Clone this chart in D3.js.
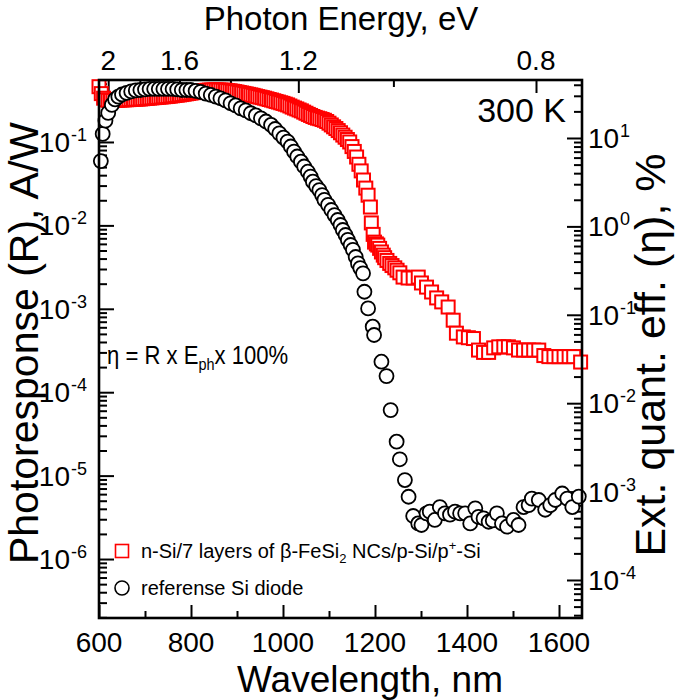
<!DOCTYPE html>
<html><head><meta charset="utf-8">
<script src="https://cdn.jsdelivr.net/npm/d3@7/dist/d3.min.js"></script>
<style>body{margin:0;background:#fff} text{font-family:"Liberation Sans",Arial,Helvetica,sans-serif;fill:#000}</style>
</head><body><svg id="c" width="675" height="700"></svg>
<script>
// ---- data ----
const redWl = [600,605,610,615,620,625,630,635,640,645,650,655,660,665,670,675,680,685,690,695,700,705,710,715,720,725,730,735,740,745,750,755,760,765,770,775,780,785,790,795,800,805,810,815,820,825,830,835,840,845,850,855,860,865,870,875,880,885,890,895,900,905,910,915,920,925,930,935,940,945,950,955,960,965,970,975,980,985,990,995,1000,1005,1010,1015,1020,1025,1030,1035,1040,1045,1050,1055,1060,1065,1070,1075,1080,1085,1090,1095,1100,1105,1110,1115,1120,1125,1130,1135,1140,1145,1150,1155,1160,1165,1170,1175,1180,1185,1190,1192,1196,1199,1203,1206,1210,1214,1218,1221,1226,1232,1237,1243,1248,1254,1261,1272,1283,1294,1301,1312,1323,1334,1345,1359,1370,1377,1392,1403,1414,1425,1436,1447,1458,1469,1480,1490,1501,1512,1523,1534,1545,1556,1567,1578,1589,1600,1611,1622,1632,1647];
const redR = [0.46,0.38,0.335,0.32,0.316,0.315,0.315,0.316,0.317,0.318,0.319,0.32,0.321,0.322,0.323,0.325,0.326,0.327,0.328,0.33,0.332,0.334,0.336,0.338,0.34,0.342,0.344,0.346,0.348,0.35,0.352,0.355,0.358,0.361,0.364,0.367,0.37,0.374,0.378,0.382,0.386,0.39,0.395,0.40,0.405,0.41,0.414,0.417,0.419,0.42,0.421,0.421,0.42,0.419,0.418,0.416,0.413,0.41,0.406,0.402,0.397,0.392,0.387,0.382,0.377,0.372,0.367,0.362,0.356,0.35,0.345,0.34,0.335,0.329,0.323,0.318,0.312,0.306,0.301,0.295,0.29,0.284,0.278,0.27,0.262,0.255,0.249,0.242,0.236,0.228,0.221,0.214,0.208,0.202,0.197,0.193,0.19,0.186,0.182,0.176,0.168,0.16,0.152,0.145,0.137,0.129,0.121,0.114,0.107,0.1,0.088,0.077,0.066,0.054,0.045,0.035,0.028,0.023,0.0166,0.0107,0.0078,0.0063,0.006,0.0058,0.0053,0.0048,0.0044,0.0041,0.0038,0.0035,0.0033,0.0031,0.0029,0.0027,0.0024,0.00234,0.00234,0.0024,0.00204,0.00182,0.00159,0.00135,0.00121,0.00105,0.00073,0.00051,0.00046,0.00045,0.00044,0.00032,0.0003,0.0003,0.00034,0.00035,0.00035,0.00035,0.00034,0.00032,0.00032,0.00032,0.00032,0.00032,0.000275,0.000267,0.000267,0.000267,0.000267,0.000267,0.000267,0.00023];

const refWl = [604,608,614,620,628,635,642,650,660,670,680,690,700,710,720,730,740,750,760,770,780,790,799,810,821,832,843,854,864,875,886,897,908,919,930,941,952,963,974,983,992,1001,1010,1017,1024,1031,1039,1046,1054,1060,1065,1072,1079,1085,1090,1098,1105,1112,1119,1125,1130,1136,1141,1147,1152,1158,1163,1168,1174,1177,1185,1195,1198,1214,1225,1234,1247,1254,1265,1273,1283,1294,1301,1312,1319,1330,1341,1352,1363,1374,1385,1396,1407,1418,1425,1436,1447,1456,1465,1476,1487,1501,1512,1523,1534,1541,1556,1570,1581,1592,1607,1618,1629,1643];
const refR = [0.059,0.125,0.18,0.223,0.278,0.324,0.349,0.371,0.387,0.404,0.415,0.42,0.426,0.432,0.432,0.432,0.432,0.432,0.432,0.426,0.42,0.42,0.42,0.409,0.398,0.38,0.366,0.35,0.334,0.315,0.291,0.274,0.253,0.239,0.221,0.208,0.192,0.176,0.16,0.143,0.127,0.113,0.101,0.0883,0.0766,0.067,0.058,0.0508,0.044,0.0385,0.0334,0.0296,0.0265,0.0231,0.0202,0.0176,0.0153,0.0133,0.0116,0.0101,0.0088,0.00767,0.0067,0.00582,0.0051,0.00418,0.0035,0.00308,0.00266,0.0016,0.00101,0.00061,0.000485,0.000232,0.000156,0.000061,0.0000255,0.0000157,0.00000885,0.00000558,0.00000328,0.00000267,0.00000256,0.00000353,0.0000037,0.00000294,0.0000042,0.00000353,0.0000034,0.0000037,0.00000353,0.00000353,0.00000267,0.00000405,0.0000032,0.00000307,0.0000028,0.0000029,0.00000353,0.00000267,0.00000244,0.00000294,0.00000256,0.0000042,0.00000443,0.0000053,0.0000051,0.0000039,0.00000443,0.0000051,0.0000061,0.0000053,0.0000042,0.0000056];

const xTickLabels = [600,800,1000,1200,1400,1600];
const xTickMinor = [700,900,1100,1300,1500];
const eTickLabels = [2,1.6,1.2,0.8];
const eTickMinor = [1.8,1.4,1.0];
const leftDecades = [-1,-2,-3,-4,-5,-6];
const rightDecades = [1,0,-1,-2,-3,-4];
const seriesNames = ["n-Si/7 layers of β-FeSi", "referense Si diode"];

// ---- layout ----
const L = 99, R = 582, T = 80, B = 618;
const svg = d3.select("#c");
const x = d3.scaleLinear([600, 1650], [L, R]);
const yL = d3.scaleLog([Math.pow(10, -6.707), Math.pow(10, -0.257)], [B, T]);
const yR = d3.scaleLog([Math.pow(10, -4.43), Math.pow(10, 1.656)], [B, T]);
const hc = 1240;

function minorLog(scale) {
  const [a, b] = scale.domain(); const out = [];
  for (let d = Math.floor(Math.log10(a)); d <= Math.ceil(Math.log10(b)); d++)
    for (let k = 2; k <= 9; k++) { const v = k * Math.pow(10, d); if (v > a && v < b) out.push(v); }
  return out;
}
const tickStyle = g => { g.select(".domain").remove(); g.selectAll("line").attr("stroke", "#000").attr("stroke-width", 2); };

// axes: ticks pointing inward
svg.append("g").attr("transform", `translate(${L},0)`).call(d3.axisRight(yL).tickValues(leftDecades.map(d => Math.pow(10, d))).tickSize(15).tickFormat("")).call(tickStyle);
svg.append("g").attr("transform", `translate(${L},0)`).call(d3.axisRight(yL).tickValues(minorLog(yL)).tickSize(8).tickFormat("")).call(tickStyle);
svg.append("g").attr("transform", `translate(${R},0)`).call(d3.axisLeft(yR).tickValues(rightDecades.map(d => Math.pow(10, d))).tickSize(15).tickFormat("")).call(tickStyle);
svg.append("g").attr("transform", `translate(${R},0)`).call(d3.axisLeft(yR).tickValues(minorLog(yR)).tickSize(8).tickFormat("")).call(tickStyle);
svg.append("g").attr("transform", `translate(0,${B})`).call(d3.axisTop(x).tickValues(xTickLabels).tickSize(13).tickFormat("")).call(tickStyle);
svg.append("g").attr("transform", `translate(0,${B})`).call(d3.axisTop(x).tickValues(xTickMinor).tickSize(7).tickFormat("")).call(tickStyle);
// photon energy axis: position = x(hc/E)
const eMajor = eTickLabels.map(e => hc / e), eMin = eTickMinor.map(e => hc / e);
svg.append("g").attr("transform", `translate(0,${T})`).call(d3.axisBottom(x).tickValues(eMajor).tickSize(13).tickFormat("")).call(tickStyle);
svg.append("g").attr("transform", `translate(0,${T})`).call(d3.axisBottom(x).tickValues(eMin).tickSize(7).tickFormat("")).call(tickStyle);

// data
const red = redWl.map((w, i) => [w, redR[i]]);
const ref = refWl.map((w, i) => [w, refR[i]]);
const S = 13, SW = 2;
svg.append("g").selectAll("rect").data(red).join("rect")
  .attr("x", d => x(d[0]) - S / 2).attr("y", d => yL(d[1]) - S / 2).attr("width", S).attr("height", S)
  .attr("fill", "#fff").attr("stroke", "#f00").attr("stroke-width", SW);
svg.append("g").selectAll("circle").data(ref).join("circle")
  .attr("cx", d => x(d[0])).attr("cy", d => yL(d[1])).attr("r", 7)
  .attr("fill", "#fff").attr("stroke", "#000").attr("stroke-width", 1.8);

// frame
svg.append("rect").attr("x", L).attr("y", T).attr("width", R - L).attr("height", B - T)
  .attr("fill", "none").attr("stroke", "#000").attr("stroke-width", 2.6);

// tick labels
const TF = 28, SF = 18;
leftDecades.forEach(d => {
  const yy = yL(Math.pow(10, d));
  svg.append("text").attr("x", 70).attr("y", yy + 10).attr("text-anchor", "end").attr("font-size", TF).text("10");
  svg.append("text").attr("x", 71).attr("y", yy - 1).attr("font-size", SF).text(d < 0 ? "-" + (-d) : d);
});
rightDecades.forEach(d => {
  const yy = yR(Math.pow(10, d));
  svg.append("text").attr("x", 588).attr("y", yy + 10).attr("font-size", TF).text("10");
  svg.append("text").attr("x", 620).attr("y", yy - 1).attr("font-size", SF).text(d < 0 ? "-" + (-d) : d);
});
xTickLabels.forEach(v => svg.append("text").attr("x", x(v)).attr("y", 652).attr("text-anchor", "middle").attr("font-size", TF).text(v));
eTickLabels.forEach(e => svg.append("text").attr("x", x(hc / e)).attr("y", 70).attr("text-anchor", "middle").attr("font-size", TF).text(e));

// titles
svg.append("text").attr("x", 341).attr("y", 30).attr("text-anchor", "middle").attr("font-size", 33).text("Photon Energy, eV");
svg.append("text").attr("x", 370).attr("y", 692).attr("text-anchor", "middle").attr("font-size", 37).text("Wavelength, nm");
svg.append("text").attr("transform", "translate(38,343) rotate(-90)").attr("text-anchor", "middle").attr("font-size", 41).text("Photoresponse (R), A/W");
svg.append("text").attr("transform", "translate(665,355) rotate(-90)").attr("text-anchor", "middle").attr("font-size", 43).text("Ext. quant. eff. (η), %");

// annotations
svg.append("text").attr("x", 566).attr("y", 122).attr("text-anchor", "end").attr("font-size", 34).text("300 K");
const eta = svg.append("text").attr("transform", "translate(107,364) scale(0.85,1)").attr("font-size", 26);
eta.append("tspan").text("η = R x E");
eta.append("tspan").attr("font-size", 17).attr("dy", 6).text("ph");
eta.append("tspan").attr("dy", -6).text("x 100%");

// legend
svg.append("rect").attr("x", 122 - S / 2).attr("y", 551 - S / 2).attr("width", S).attr("height", S).attr("fill", "#fff").attr("stroke", "#f00").attr("stroke-width", 1.6);
svg.append("circle").attr("cx", 122).attr("cy", 588).attr("r", 7).attr("fill", "#fff").attr("stroke", "#000").attr("stroke-width", 1.6);
const l1 = svg.append("text").attr("x", 141).attr("y", 558).attr("font-size", 20);
l1.append("tspan").text(seriesNames[0]);
l1.append("tspan").attr("font-size", 13).attr("dy", 5).text("2");
l1.append("tspan").attr("dy", -5).text(" NCs/p-Si/p");
l1.append("tspan").attr("font-size", 13).attr("dy", -8).text("+");
l1.append("tspan").attr("dy", 8).text("-Si");
svg.append("text").attr("x", 141).attr("y", 595).attr("font-size", 20).text(seriesNames[1]);
</script></body></html>
